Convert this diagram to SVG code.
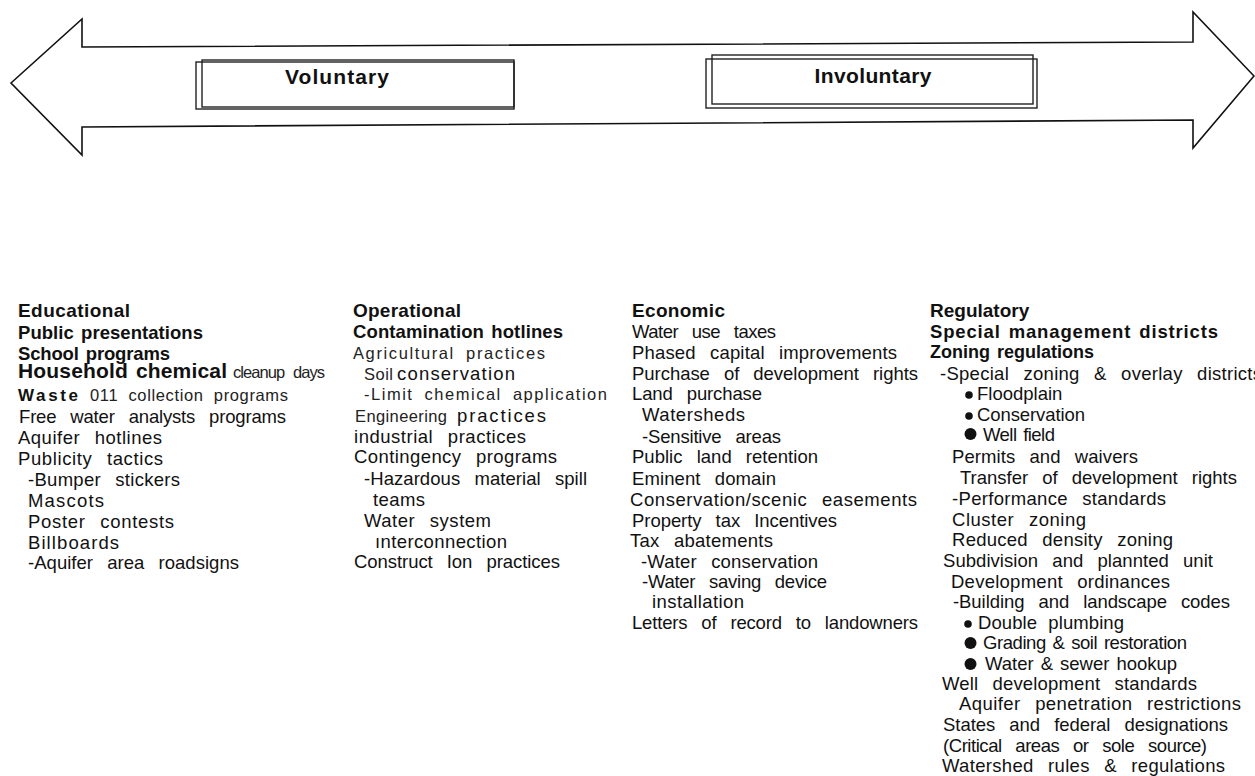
<svg xmlns="http://www.w3.org/2000/svg" width="1255" height="776" viewBox="0 0 1255 776">
<style>
.t { font-family: "Liberation Sans", Arial, Helvetica, sans-serif; font-size: 18.5px; fill: #111; word-spacing: 9px; }
.b { font-weight: bold; font-size: 18.5px; word-spacing: 2px; }
.h { font-weight: bold; font-size: 19px; word-spacing: 0; }
.n { font-size: 16.5px; fill: #222; word-spacing: 5px; }
.w { word-spacing: 2px; }
.ln { fill: none; stroke: #111; stroke-width: 1.6; stroke-linejoin: miter; }
.bx { fill: none; stroke: #222; stroke-width: 1.4; }
.dot { fill: #111; }
</style>
<rect width="1255" height="776" fill="#fff"/>

<g id="arrow">
  <path class="ln" d="M11,83 L82,19 L82,47 L1193,42 L1193,12 L1254,76 L1193,148 L1193,120 L82,127 L82,155 Z"/>
</g>

<g id="voluntary">
  <rect class="bx" x="196" y="62" width="318" height="47"/>
  <rect class="bx" x="202" y="60" width="312" height="47"/>
  <text class="t h" x="337" y="84" text-anchor="middle" style="font-size:21px" textLength="104">Voluntary</text>
</g>

<g id="involuntary">
  <rect class="bx" x="706" y="59" width="331" height="49"/>
  <rect class="bx" x="712" y="55" width="321" height="49"/>
  <text class="t h" x="873" y="83" text-anchor="middle" style="font-size:21px" textLength="117">Involuntary</text>
</g>

<g id="educational">
  <text class="t h" x="18" y="317" textLength="112">Educational</text>
  <text class="t b" x="18" y="339" textLength="185">Public presentations</text>
  <text class="t b" x="18" y="360" textLength="152">School programs</text>
  <text class="t b" x="18" y="378" style="font-size:21px" textLength="209">Household chemical</text>
  <text class="t n" x="233" y="378" textLength="92">cleanup days</text>
  <text class="t b" x="18" y="401" style="font-size:17px" textLength="60">Waste</text>
  <text class="t n" x="90" y="401" textLength="198">011 collection programs</text>
  <text class="t" x="19" y="423" textLength="267">Free water analysts programs</text>
  <text class="t" x="18" y="444" textLength="144">Aquifer hotlines</text>
  <text class="t" x="18" y="465" textLength="145">Publicity tactics</text>
  <text class="t" x="28" y="486" textLength="152">-Bumper stickers</text>
  <text class="t" x="28" y="507" textLength="76">Mascots</text>
  <text class="t" x="28" y="528" textLength="146">Poster contests</text>
  <text class="t" x="28" y="549" textLength="91">Billboards</text>
  <text class="t" x="28" y="569" textLength="211">-Aquifer area roadsigns</text>
</g>

<g id="operational">
  <text class="t h" x="353" y="317" textLength="108">Operational</text>
  <text class="t b" x="353" y="338" textLength="210">Contamination hotlines</text>
  <text class="t n" x="353" y="359" textLength="192">Agricultural practices</text>
  <text class="t n" x="364" y="380" textLength="29">Soil</text>
  <text class="t" x="397" y="380" textLength="118">conservation</text>
  <text class="t n" x="364" y="400" textLength="243">-Limit chemical application</text>
  <text class="t n" x="355" y="422" textLength="92">Engineering</text>
  <text class="t" x="457" y="422" textLength="89">practices</text>
  <text class="t" x="354" y="443" textLength="172">industrial practices</text>
  <text class="t" x="354" y="463" textLength="203">Contingency programs</text>
  <text class="t" x="364" y="485" textLength="223">-Hazardous material spill</text>
  <text class="t" x="373" y="506" textLength="52">teams</text>
  <text class="t" x="364" y="527" textLength="127">Water system</text>
  <text class="t" x="375" y="548" textLength="132">ınterconnection</text>
  <text class="t" x="354" y="568" textLength="206">Construct Ion practices</text>
</g>

<g id="economic">
  <text class="t h" x="632" y="317" textLength="93">Economic</text>
  <text class="t" x="632" y="338" textLength="144">Water use taxes</text>
  <text class="t" x="632" y="359" textLength="265">Phased capital improvements</text>
  <text class="t" x="632" y="380" textLength="286">Purchase of development rights</text>
  <text class="t" x="632" y="400" textLength="130">Land purchase</text>
  <text class="t" x="642" y="421" textLength="103">Watersheds</text>
  <text class="t" x="642" y="443" textLength="139">-Sensitive areas</text>
  <text class="t" x="632" y="463" textLength="186">Public land retention</text>
  <text class="t" x="632" y="485" textLength="144">Eminent domain</text>
  <text class="t" x="630" y="506" textLength="287">Conservation/scenic easements</text>
  <text class="t" x="632" y="527" textLength="205">Property tax Incentives</text>
  <text class="t" x="630" y="547" textLength="143">Tax abatements</text>
  <text class="t" x="641" y="568" textLength="177">-Water conservation</text>
  <text class="t" x="642" y="588" textLength="185">-Water saving device</text>
  <text class="t" x="652" y="608" textLength="92">installation</text>
  <text class="t" x="632" y="629" textLength="286">Letters of record to landowners</text>
</g>

<g id="regulatory">
  <text class="t h" x="930" y="317">Regulatory</text>
  <text class="t b" x="930" y="338" textLength="288">Special management districts</text>
  <text class="t b" x="930" y="358" style="font-size:18px">Zoning regulations</text>
  <text class="t" x="940" y="380" textLength="322">-Special zoning &amp; overlay districts</text>
  <circle class="dot" cx="969" cy="395" r="3.8"/>
  <text class="t w" x="977" y="400">Floodplain</text>
  <circle class="dot" cx="969" cy="416" r="3.8"/>
  <text class="t w" x="977" y="421" textLength="108">Conservation</text>
  <circle class="dot" cx="970.5" cy="434" r="6"/>
  <text class="t w" x="983" y="441" textLength="72">Well field</text>
  <text class="t" x="952" y="463" textLength="186">Permits and waivers</text>
  <text class="t" x="960" y="484" textLength="277">Transfer of development rights</text>
  <text class="t" x="952" y="505" textLength="214">-Performance standards</text>
  <text class="t" x="952" y="526" textLength="134">Cluster zoning</text>
  <text class="t" x="952" y="546" textLength="221">Reduced density zoning</text>
  <text class="t" x="943" y="567" textLength="270">Subdivision and plannted unit</text>
  <text class="t" x="951" y="588" textLength="219">Development ordinances</text>
  <text class="t" x="953" y="608" textLength="277">-Building and landscape codes</text>
  <circle class="dot" cx="968" cy="624" r="3.8"/>
  <text class="t" x="978" y="629" style="word-spacing:6px" textLength="146">Double plumbing</text>
  <circle class="dot" cx="970.5" cy="643" r="6"/>
  <text class="t w" x="983" y="649" textLength="204">Grading &amp; soil restoration</text>
  <circle class="dot" cx="970.5" cy="664" r="6"/>
  <text class="t w" x="985" y="670" textLength="192">Water &amp; sewer hookup</text>
  <text class="t" x="942" y="690" textLength="255">Well development standards</text>
  <text class="t" x="959" y="710" textLength="282">Aquifer penetration restrictions</text>
  <text class="t" x="943" y="731" textLength="285">States and federal designations</text>
  <text class="t" x="943" y="752" textLength="264">(Critical areas or sole source)</text>
  <text class="t" x="942" y="772" textLength="283">Watershed rules &amp; regulations</text>
</g>
</svg>
